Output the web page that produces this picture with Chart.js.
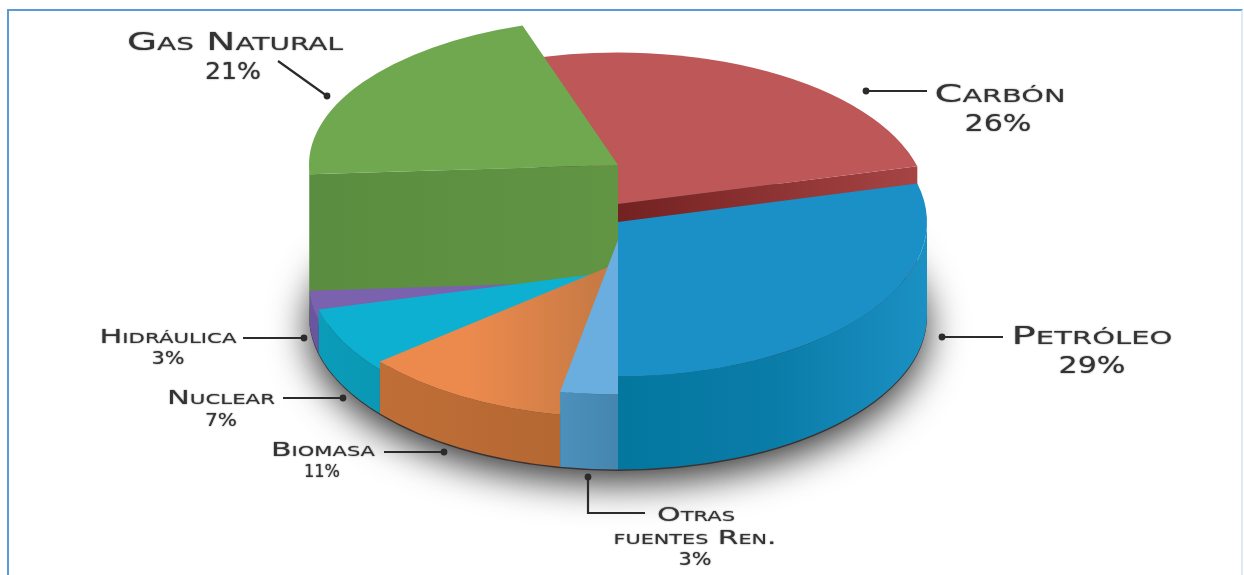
<!DOCTYPE html>
<html>
<head>
<meta charset="utf-8">
<script src="https://cdn.jsdelivr.net/npm/chart.js@4"></script>
<style>
  html, body { margin: 0; background: #fff; overflow: hidden; }
  #frame {
    position: absolute; left: 7px; top: 9px; width: 1232px; height: 600px;
    border: solid #5b9bd5; border-width: 2px 2px 0 2px; border-right-color: #dfe9f3;
  }
  canvas { position: absolute; left: 0; top: 0; }
</style>
</head>
<body>
<div id="frame"></div>
<canvas id="pie" width="1244" height="575"></canvas>
<script>
const categories = ["Carbón", "Petróleo", "Otras fuentes Ren.", "Biomasa", "Nuclear", "Hidráulica", "Gas Natural"]
const shares = [26, 29, 3, 11, 7, 3, 21]

// look of each slice, same order as categories
const topColors = ["#bd5758", "#1a90c6", "#6aaee0", "#ec8a4e", "#0db0d0", "#7a62ae", "#70a84f"]
const wallStops = [
  null,
  ["#04779f", "#0a7ca8", "#1b90c3"],
  ["#4c90bc", "#4486ae"],
  ["#c06e37", "#b56832"],
  ["#0a9cb9", "#0a98b4"],
  ["#6a55a0", "#6a55a0"],
  ["#5e8f40", "#5e8f40"]
]
const lifts = [111, 93, 75, 52, 44, 34, 150]
const squash = [0.49, 0.5, 0.5, 0.5, 0.5, 0.5, 0.475]
const drawOrder = [0, 6, 1, 5, 4, 3, 2]

// label text is split in lines, with box of [centre x, baseline y, font px, width]
const labelLines = [
  [["Carbón", 1000, 102, 25, 131], ["26%", 998, 131, 23, 67]],
  [["Petróleo", 1092, 344, 25, 161], ["29%", 1092, 373, 23, 67]],
  [["Otras", 696, 521, 20, 78], ["fuentes Ren.", 695, 544, 20, 163], ["3%", 695, 565, 18, 33]],
  [["Biomasa", 323, 456, 20, 104], ["11%", 322, 477, 18, 36]],
  [["Nuclear", 221, 404, 20, 108], ["7%", 221, 426, 18, 32]],
  [["Hidráulica", 168, 343, 20, 137], ["3%", 168, 364, 18, 33]],
  [["Gas Natural", 235, 50, 25, 216], ["21%", 233, 79, 23, 56]]
]
const leaders = [
  [[866, 91], [927, 91]],
  [[942, 337], [1003, 337]],
  [[588, 477], [588, 513], [645, 513]],
  [[444, 452], [384, 452]],
  [[343, 398], [283, 398]],
  [[304, 338], [243, 338]],
  [[327, 96], [278, 61]]
]

const canvas = document.getElementById("pie")
const ctx2d = canvas.getContext("2d")

function gradient(c, x0, x1, stops) {
  const g = c.createLinearGradient(x0, 0, x1, 0)
  stops.forEach((s, i) => g.addColorStop(i / (stops.length - 1), s))
  return g
}

const orangeTop = ctx2d.createLinearGradient(470, 0, 600, 0)
orangeTop.addColorStop(0, "#ec8a4e")
orangeTop.addColorStop(1, "#c77a44")
const sliceFills = topColors.map((c, i) => i === 3 ? orangeTop : c)

function drawWall(c, arc, i) {
  const a0 = Math.max(arc.startAngle, 0)
  const a1 = Math.min(arc.endAngle, Math.PI)
  if (a1 <= a0 || !wallStops[i]) return
  const r = arc.outerRadius
  const top = arc.y - lifts[i]
  const xs = [arc.x + r * Math.cos(a0), arc.x + r * Math.cos(a1)]
  c.beginPath()
  c.ellipse(arc.x, top, r, r * squash[i], 0, a0, a1)
  c.ellipse(arc.x, arc.y, r, r * 0.5, 0, a1, a0, true)
  c.closePath()
  c.fillStyle = gradient(c, Math.min(...xs), Math.max(...xs), wallStops[i])
  c.fill()
}

// flat cut side of a raised slice, from the centre out to one edge
function drawFace(c, arc, i, angle, stops) {
  const r = arc.outerRadius
  const top = arc.y - lifts[i]
  const ex = arc.x + r * Math.cos(angle)
  c.beginPath()
  c.moveTo(arc.x, top)
  c.lineTo(ex, top + r * squash[i] * Math.sin(angle))
  c.lineTo(ex, arc.y + r * 0.5 * Math.sin(angle))
  c.lineTo(arc.x, arc.y)
  c.closePath()
  c.fillStyle = gradient(c, Math.min(ex, arc.x), Math.max(ex, arc.x), stops)
  c.fill()
}

const pie3d = {
  id: "pie3d",
  beforeDatasetDraw(chart, args) {
    const c = chart.ctx
    const arcs = args.meta.data
    const first = arcs[0]
    const r = first.outerRadius

    // soft shadow on the floor plus a thin dark rim under the walls
    c.save()
    c.shadowColor = "rgba(0,0,0,0.8)"
    c.shadowBlur = 38
    c.shadowOffsetY = 12
    c.fillStyle = "#3a3230"
    c.beginPath()
    c.ellipse(first.x, first.y + 1.5, r, r * 0.5, 0, 0, Math.PI * 2)
    c.fill()
    c.restore()

    drawOrder.forEach((i) => {
      const arc = arcs[i]
      if (i === 0) drawFace(c, arc, i, arc.endAngle, ["#732121", "#a64444"])
      if (i === 6) drawFace(c, arc, i, arc.startAngle, ["#5b8d40", "#619443"])
      drawWall(c, arc, i)
      c.save()
      c.translate(arc.x, arc.y - lifts[i])
      c.scale(1, squash[i])
      c.translate(-arc.x, -arc.y)
      arc.draw(c)
      c.restore()
    })
    return false
  },
  afterDraw(chart) {
    const c = chart.ctx
    c.save()
    c.strokeStyle = "#2b2b2b"
    c.fillStyle = "#2b2b2b"
    c.lineWidth = 2.2
    leaders.forEach((pts) => {
      c.beginPath()
      pts.forEach((p, i) => i ? c.lineTo(p[0], p[1]) : c.moveTo(p[0], p[1]))
      c.stroke()
      c.beginPath()
      c.arc(pts[0][0], pts[0][1], 3.4, 0, Math.PI * 2)
      c.fill()
    })

    c.fillStyle = "#333"
    c.shadowColor = "#555"
    c.shadowBlur = 1.5
    c.textAlign = "center"
    c.textBaseline = "alphabetic"
    labelLines.flat().forEach(([text, x, y, size, width]) => {
      c.save()
      c.font = `small-caps ${size}px "DejaVu Sans"`
      const sx = width / c.measureText(text).width
      c.translate(x, y)
      c.scale(sx, 1)
      c.fillText(text, 0, 0)
      c.restore()
    })
    c.restore()
  }
}

new Chart(ctx2d, {
  type: "pie",
  data: {
    labels: categories,
    datasets: [{
      data: shares,
      backgroundColor: sliceFills,
      borderWidth: 0
    }]
  },
  options: {
    responsive: false,
    animation: false,
    rotation: -18,
    radius: 309,
    layout: { padding: { top: 55, right: 8 } },
    plugins: {
      legend: { display: false },
      tooltip: { enabled: false }
    }
  },
  plugins: [pie3d]
})
</script>
</body>
</html>
